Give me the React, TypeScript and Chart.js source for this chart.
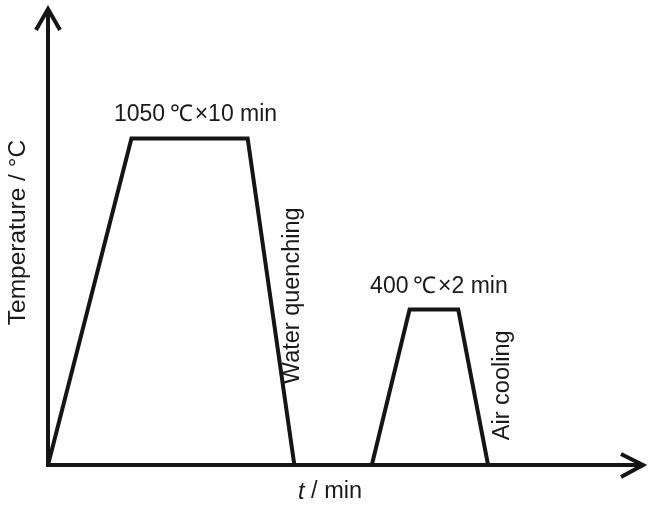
import React, { useEffect, useRef } from "react";
import { Chart, registerables } from "chart.js";

Chart.register(...registerables);

// Process path: time (arbitrary schematic units) and temperature (°C)
const timeValues = [0, 8.4, 20.1, 24.8, 32.6, 36.4, 41.3, 44.3];
const tempValues = [0, 1050, 1050, 0, 0, 500, 500, 0];
const xMax = 60;
const yMax = 1470;

const plateauLabels = ["1050\u2009℃\u200a×10 min", "400\u2009℃\u200a×2 min"];
const coolingLabels = ["Water quenching", "Air cooling"];
const yAxisTitle = "Temperature / °C";
const xAxisTitleItalic = "t";
const xAxisTitleRest = " / min";

const FONT = "'Liberation Sans', Arial, Helvetica, sans-serif";
const INK = "#151515";

const drawPlugin = {
  id: "schematic",
  afterDatasetsDraw(chart: any) {
    const { ctx, chartArea, scales } = chart;
    const xs = scales.x;
    const ys = scales.y;
    const px = (i: number) => xs.getPixelForValue(timeValues[i]);
    const py = (i: number) => ys.getPixelForValue(tempValues[i]);
    const left = chartArea.left;
    const bottom = chartArea.bottom;
    const top = chartArea.top;
    const right = chartArea.right;

    ctx.save();
    ctx.strokeStyle = INK;
    ctx.lineWidth = 4;
    ctx.lineCap = "butt";
    ctx.lineJoin = "miter";
    // axes
    ctx.beginPath();
    ctx.moveTo(left, top + 2);
    ctx.lineTo(left, bottom);
    ctx.lineTo(right - 2, bottom);
    ctx.stroke();
    // arrow heads
    ctx.beginPath();
    ctx.moveTo(left - 12, top + 22);
    ctx.lineTo(left, top + 1);
    ctx.lineTo(left + 12, top + 22);
    ctx.stroke();
    ctx.beginPath();
    ctx.moveTo(right - 23, bottom - 11);
    ctx.lineTo(right - 1, bottom);
    ctx.lineTo(right - 23, bottom + 12);
    ctx.stroke();

    ctx.fillStyle = "#1a1a1a";
    ctx.textAlign = "center";
    ctx.textBaseline = "middle";
    ctx.font = `23px ${FONT}`;
    // plateau labels
    ctx.fillText(plateauLabels[0], (px(1) + px(2)) / 2 + 6, py(1) - 24);
    ctx.fillText(plateauLabels[1], (px(5) + px(6)) / 2 + 5, py(5) - 23);

    // cooling labels (rotated)
    const rot = (text: string, x: number, y: number) => {
      ctx.save();
      ctx.translate(x, y);
      ctx.rotate(-Math.PI / 2);
      ctx.fillText(text, 0, 0);
      ctx.restore();
    };
    ctx.font = `23.5px ${FONT}`;
    const midY1 = (py(2) + py(3)) / 2 - 6;
    const lineX1 = px(2) + (px(3) - px(2)) * ((midY1 - py(2)) / (py(3) - py(2)));
    rot(coolingLabels[0], lineX1 + 22, midY1);
    const midY2 = (py(6) + py(7)) / 2 - 2;
    const lineX2 = px(6) + (px(7) - px(6)) * ((midY2 - py(6)) / (py(7) - py(6)));
    rot(coolingLabels[1], lineX2 + 30, midY2);

    // y axis title
    ctx.font = `24.5px ${FONT}`;
    rot(yAxisTitle, left - 30, (top + bottom) / 2 - 4);

    // x axis title with italic t
    ctx.textAlign = "left";
    ctx.font = `italic 23.5px ${FONT}`;
    const wT = ctx.measureText(xAxisTitleItalic).width;
    ctx.font = `23.5px ${FONT}`;
    const wR = ctx.measureText(xAxisTitleRest).width;
    const cx = 330;
    const startX = cx - (wT + wR) / 2;
    const ty = bottom + 27;
    ctx.font = `italic 23.5px ${FONT}`;
    ctx.fillText(xAxisTitleItalic, startX, ty);
    ctx.font = `23.5px ${FONT}`;
    ctx.fillText(xAxisTitleRest, startX + wT, ty);
    ctx.restore();
  },
};

export default function App() {
  const ref = useRef<HTMLCanvasElement | null>(null);
  useEffect(() => {
    document.body.style.margin = "0";
    document.body.style.background = "#ffffff";
    if (!ref.current) return;
    const chart = new Chart(ref.current, {
      type: "line",
      data: {
        datasets: [
          {
            data: timeValues.map((t, i) => ({ x: t, y: tempValues[i] })),
            borderColor: INK,
            borderWidth: 4,
            pointRadius: 0,
            tension: 0,
            fill: false,
            borderJoinStyle: "miter",
          } as any,
        ],
      },
      options: {
        responsive: false,
        animation: false,
        devicePixelRatio: 1,
        layout: { padding: { left: 48, top: 8, right: 6, bottom: 40 } },
        scales: {
          x: { type: "linear", min: 0, max: xMax, display: false },
          y: { type: "linear", min: 0, max: yMax, display: false },
        },
        plugins: {
          legend: { display: false },
          tooltip: { enabled: false },
          title: { display: false },
        },
      },
      plugins: [drawPlugin],
    });
    return () => chart.destroy();
  }, []);
  return (
    <div style={{ width: 650, height: 505, background: "#fff" }}>
      <canvas ref={ref} width={650} height={505} style={{ display: "block" }} />
    </div>
  );
}
